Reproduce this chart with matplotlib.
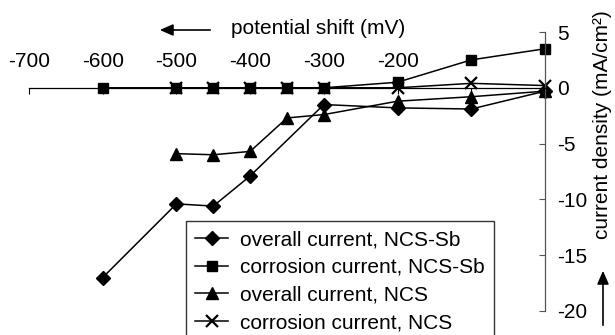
import matplotlib.pyplot as plt

plt.rcParams['font.family'] = ['Liberation Sans', 'DejaVu Sans']
plt.rcParams['axes.unicode_minus'] = False

# potential shift (mV)
shift_sb = [-600, -500, -450, -400, -300, -200, -100, 0]
overall_sb = [-17.0, -10.4, -10.6, -7.9, -1.5, -1.8, -1.9, -0.3]

shift_sb_corr = [-600, -500, -450, -400, -350, -300, -200, -100, 0]
corrosion_sb = [0.0, 0.0, 0.0, 0.0, 0.0, 0.0, 0.5, 2.5, 3.5]

shift_ncs = [-500, -450, -400, -350, -300, -200, -100, 0]
overall_ncs = [-5.9, -6.0, -5.7, -2.7, -2.4, -1.2, -0.8, -0.3]
corrosion_ncs = [0.0, 0.0, 0.0, 0.0, 0.0, 0.0, 0.4, 0.2]

xticks = [-700, -600, -500, -400, -300, -200, -100, 0]
xtick_labels = ['-700', '-600', '-500', '-400', '-300', '-200', '', '']
yticks = [5, 0, -5, -10, -15, -20]

fig = plt.figure(figsize=(6.15, 3.35), dpi=100)
ax = fig.add_axes([29 / 615, 24 / 335, 516 / 615, 279 / 335])

common = dict(color='black', lw=1.1, clip_on=False)
ax.plot(shift_sb, overall_sb, marker='D', ms=7.5, label='overall current, NCS-Sb', **common)
ax.plot(shift_sb_corr, corrosion_sb, marker='s', ms=7, label='corrosion current, NCS-Sb', **common)
ax.plot(shift_ncs, overall_ncs, marker='^', ms=8.5, label='overall current, NCS', **common)
ax.plot(shift_ncs, corrosion_ncs, marker='x', ms=8, mew=1.6, label='corrosion current, NCS', **common)

ax.set_xlim(-700, 0)
ax.set_ylim(-20, 5)

ax.spines['left'].set_visible(False)
ax.spines['bottom'].set_visible(False)
ax.spines['top'].set_position(('data', 0))
ax.spines['top'].set_linewidth(0.9)
ax.spines['right'].set_linewidth(0.9)
ax.spines['right'].set_color('#555555')

ax.xaxis.tick_top()
ax.set_xticks(xticks)
ax.set_xticklabels(xtick_labels)
ax.tick_params(axis='x', direction='in', length=4, pad=12, labelsize=15)

ax.yaxis.tick_right()
ax.set_yticks(yticks)
ax.tick_params(axis='y', direction='in', length=4, pad=9, labelsize=15, color='#555555')

leg = ax.legend(loc='upper left', bbox_to_anchor=(185.7 / 615, 1 - 220.7 / 335),
                bbox_transform=fig.transFigure, fontsize=15, frameon=True,
                fancybox=False, edgecolor='black', borderaxespad=0, borderpad=0.45,
                handlelength=1.6, handletextpad=0.55, labelspacing=0.42)
leg.get_frame().set_linewidth(1.0)

fig.text(603 / 615, 1 - 125 / 335, 'current density (mA/cm²)', rotation=90,
         ha='center', va='center', fontsize=15)
fig.text(231 / 615, 1 - 28 / 335, 'potential shift (mV)', ha='left', va='center', fontsize=15)

fig.add_artist(plt.matplotlib.patches.FancyArrowPatch(
    (213 / 615, 1 - 30 / 335), (157 / 615, 1 - 30 / 335), transform=fig.transFigure,
    arrowstyle='-|>,head_length=8,head_width=3.5', color='black', lw=1.2, mutation_scale=1))
fig.add_artist(plt.matplotlib.patches.FancyArrowPatch(
    (603 / 615, 1 - 328 / 335), (603 / 615, 1 - 268 / 335), transform=fig.transFigure,
    arrowstyle='-|>,head_length=8,head_width=3.5', color='black', lw=1.2, mutation_scale=1))

fig.savefig('out.png', dpi=100)
